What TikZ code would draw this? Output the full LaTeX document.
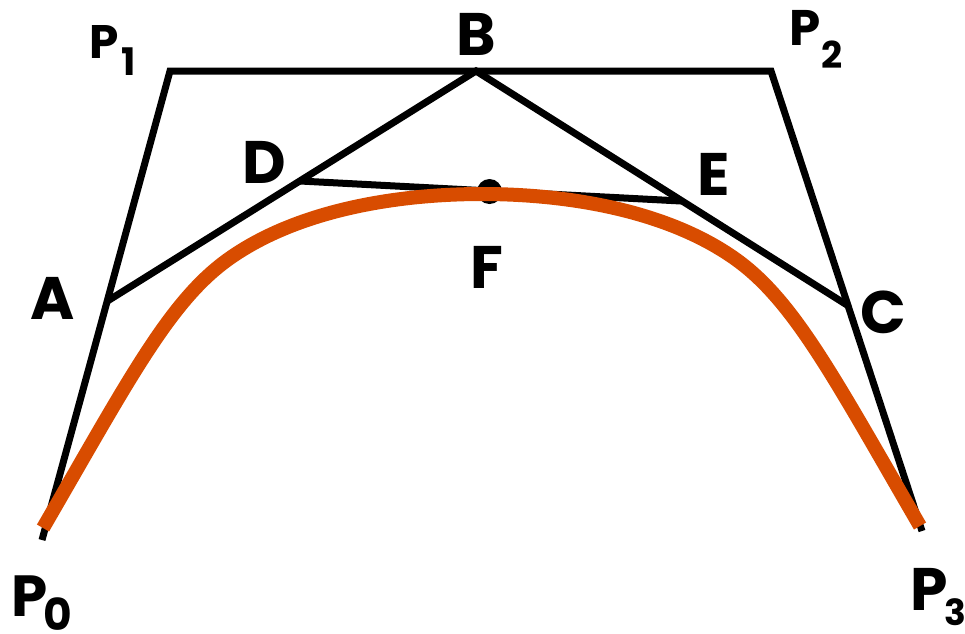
\documentclass[tikz,border=0pt]{standalone}
\usepackage{fontspec}
\setmainfont{Poppins}
\definecolor{curveorange}{RGB}{216,76,0}
\begin{document}
\begin{tikzpicture}[x=1pt,y=-1pt,
  polyline/.style={line width=7pt,black,line join=miter,line cap=butt},
  bezcurve/.style={line width=14pt,curveorange,line cap=butt,line join=round},
  lbl/.style={inner sep=0pt,anchor=base,font=\fontsize{60}{60}\selectfont\bfseries},
  sub/.style={inner sep=0pt,anchor=base}]
\useasboundingbox (0,0) rectangle (965,633);
% control polygon
\coordinate (p0) at (42,540);
\coordinate (p1) at (170,71);
\coordinate (p2) at (771,71);
\coordinate (p3) at (922,531);
\coordinate (a) at (107.5,301);
\coordinate (b) at (476,71);
\coordinate (c) at (847,305);
\coordinate (d) at (300,181);
\coordinate (e) at (681,201);
\coordinate (f) at (489.5,191.5);
% curve: ends, shoulders, top
\coordinate (s0) at (43,528);
\coordinate (n1) at (230,258);
\coordinate (top) at (482,194);
\coordinate (n2) at (734,258);
\coordinate (s3) at (920,526);
\draw[polyline] (p0) -- (p1) -- (p2) -- (p3);
\draw[polyline] (a) -- (b) -- (c);
\draw[polyline] (d) -- (e);
\fill[black] (f) circle[radius=12.5];
\draw[bezcurve] (s0) .. controls (130,378) and (170,300) .. (n1)
                     .. controls (300,209) and (400,194) .. (top)
                     .. controls (564,194) and (664,209) .. (n2)
                     .. controls (794,300) and (834,378) .. (s3);
% labels
\node[lbl] (lb) at (476,55) {B};
\node[lbl] (ld) at (264.5,183) {D};
\node[lbl] (le) at (714,195) {E};
\node[lbl] (lc) at (883.5,333) {C};
\node[lbl] (lf) at (487,288) {F};
\node[lbl] (la) at (52.5,319) {A};
\node[lbl,font=\fontsize{47}{47}\selectfont\bfseries] (lp1) at (104,58) {P};
\node[sub,font=\fontsize{38}{38}\selectfont\bfseries] (lp1s) at (128.5,75) {1};
\node[lbl,font=\fontsize{50}{50}\selectfont\bfseries] (lp2) at (805,45) {P};
\node[sub,font=\fontsize{37}{37}\selectfont\bfseries] (lp2s) at (832,68) {2};
\node[lbl,font=\fontsize{58}{58}\selectfont\bfseries] (lp0) at (30,616) {P};
\node[sub,font=\fontsize{44}{44}\selectfont\bfseries] (lp0s) at (58,630) {0};
\node[lbl,font=\fontsize{60}{60}\selectfont\bfseries] (lp3) at (929,610) {P};
\node[sub,font=\fontsize{36}{36}\selectfont\bfseries] (lp3s) at (955,625) {3};
\end{tikzpicture}
\end{document}
